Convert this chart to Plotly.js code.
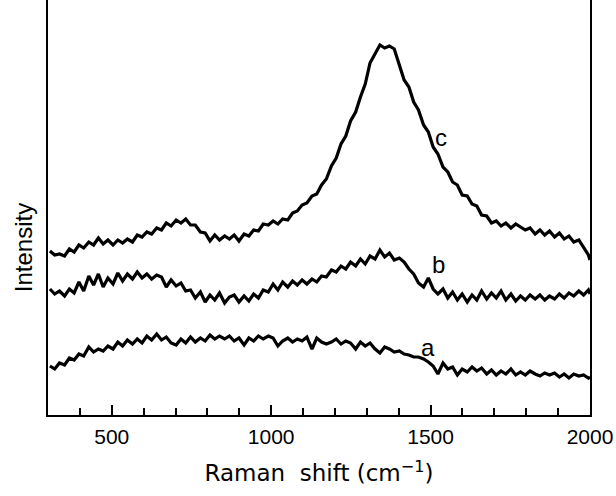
<!DOCTYPE html>
<html>
<head>
<meta charset="utf-8">
<script src="https://cdn.plot.ly/plotly-3.0.1.min.js"></script>
<style>html,body{margin:0;padding:0;background:#fff;}#chart{width:616px;height:496px;}</style>
</head>
<body>
<div id="chart"></div>
<script>
const ramanShift = [306,321,336,352,367,382,397,412,428,443,458,473,488,504,519,534,549,565,580,595,610,625,641,656,671,686,702,717,732,747,762,778,793,808,823,838,854,869,884,899,915,930,945,960,975,991,1006,1021,1036,1052,1067,1082,1097,1112,1128,1143,1158,1173,1189,1204,1219,1234,1249,1265,1280,1295,1310,1326,1341,1356,1371,1386,1402,1417,1432,1447,1462,1478,1493,1508,1523,1539,1554,1569,1584,1599,1615,1630,1645,1660,1676,1691,1706,1721,1736,1752,1767,1782,1797,1812,1828,1843,1858,1873,1889,1904,1919,1934,1949,1965,1980,1995,2000];

const intensityC = [164,160,161,159,166,163,170,167,173,170,177,171,175,170,175,172,176,173,180,178,183,181,187,185,192,189,195,192,196,190,190,183,182,174,180,175,179,176,180,174,181,179,185,184,191,190,194,191,196,195,202,204,210,212,219,221,230,236,249,257,271,279,294,303,318,331,352,362,370,367,369,366,350,335,328,313,305,290,283,268,261,248,243,233,230,220,219,211,209,200,199,192,194,189,192,187,191,188,185,187,181,185,180,184,178,182,176,179,173,175,167,160,155];

const intensityB = [126,121,124,119,126,122,133,124,139,130,141,128,137,131,142,134,141,136,143,137,141,136,140,138,128,135,129,132,124,125,117,123,113,120,115,122,112,118,120,113,119,114,121,117,125,123,131,125,133,128,134,130,135,131,136,133,139,138,145,143,149,146,153,149,156,151,159,156,165,158,162,155,157,153,146,141,132,128,137,126,121,126,117,123,115,121,113,120,115,124,116,122,117,124,115,121,114,119,115,120,116,120,115,119,116,121,117,122,119,124,120,125,121];

const intensityA = [49,46,52,50,57,55,61,59,68,63,66,64,69,66,73,69,75,71,76,72,79,75,81,75,78,72,70,76,72,78,73,77,74,80,76,79,76,79,74,77,70,77,74,79,76,79,77,69,74,77,73,76,74,78,66,77,73,71,73,76,71,74,72,66,73,69,72,66,62,68,66,63,64,61,60,58,58,56,53,49,41,52,46,48,40,46,43,48,44,47,41,45,40,44,41,46,40,43,40,44,41,39,42,40,42,38,41,37,41,39,40,37,38];

const curveLabels = ['a','b','c'];
const labelX = [1492, 1526, 1532];
const labelY = [68, 151, 278];

const majorTicks = [500,1000,1500,2000];
const majorTickText = ['500','1000','1500','2000'];
const minorTicks = [400,600,700,800,900,1100,1200,1300,1400,1600,1700,1800,1900];

const lineStyle = {color:'#000', width:3.2};
const traces = [
  {x: ramanShift, y: intensityA, type:'scatter', mode:'lines', line: lineStyle, hoverinfo:'skip'},
  {x: ramanShift, y: intensityB, type:'scatter', mode:'lines', line: lineStyle, hoverinfo:'skip'},
  {x: ramanShift, y: intensityC, type:'scatter', mode:'lines', line: lineStyle, hoverinfo:'skip'}
];

const annotations = curveLabels.map((t,i)=>({
  x: labelX[i], y: labelY[i], xref:'x', yref:'y', text: t, showarrow:false,
  font:{family:'Liberation Sans, Arial, sans-serif', size:24, color:'#000'}, xanchor:'center', yanchor:'middle'
}));
annotations.push({
  xref:'paper', yref:'paper', x:-0.046, y:0.402, text:'Intensity', textangle:-90, showarrow:false,
  xanchor:'center', yanchor:'middle',
  font:{family:'Liberation Sans, Arial, sans-serif', size:24, color:'#000'}
});

const layout = {
  width:616, height:496,
  margin:{l:48, r:26, t:0, b:81},
  paper_bgcolor:'#fff', plot_bgcolor:'#fff',
  showlegend:false,
  font:{family:'Liberation Sans, Arial, sans-serif', color:'#000'},
  xaxis:{
    range:[300,2000], showgrid:false, zeroline:false,
    showline:true, linecolor:'#000', linewidth:2,
    ticks:'inside', ticklen:10, tickwidth:2, tickcolor:'#000',
    tickvals: majorTicks, ticktext: majorTickText,
    minor:{tickvals: minorTicks, ticks:'inside', ticklen:7, tickwidth:2, tickcolor:'#000'},
    tickfont:{size:21}, ticklabelstandoff:2,
    title:{text:'Raman  shift (cm<sup>−1</sup>)', font:{family:'DejaVu Sans, sans-serif', size:23}, standoff:18}
  },
  yaxis:{
    range:[0,415], showgrid:false, zeroline:false,
    showline:true, linecolor:'#000', linewidth:2, mirror:true,
    ticks:'', showticklabels:false
  },
  annotations: annotations
};

Plotly.newPlot('chart', traces, layout, {staticPlot:true, displayModeBar:false});
</script>
</body>
</html>
